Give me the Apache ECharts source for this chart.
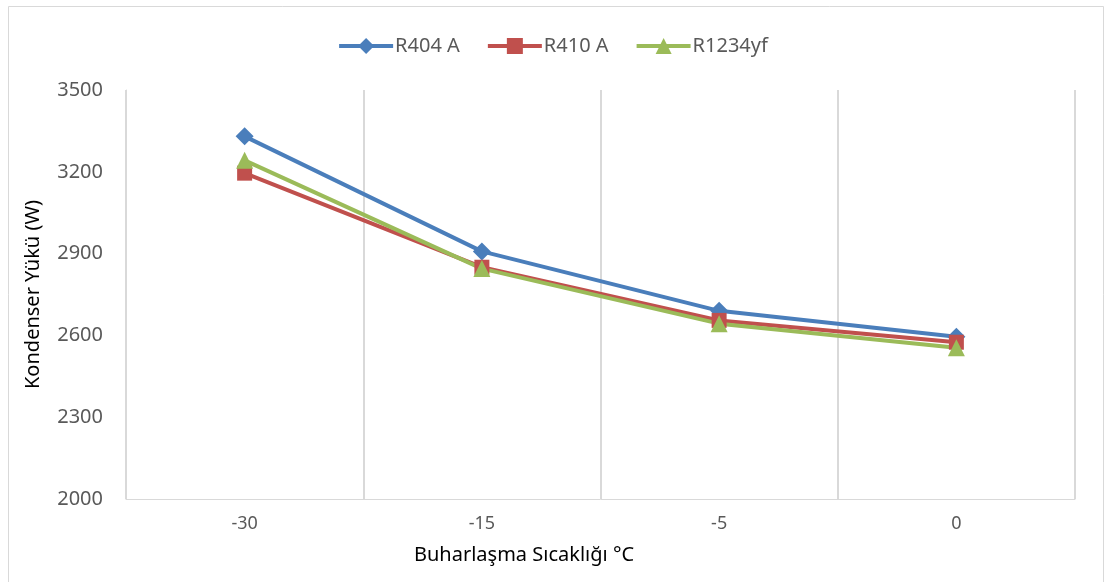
<!DOCTYPE html>
<html>
<head>
<meta charset="utf-8">
<script src="https://cdn.jsdelivr.net/npm/echarts@6/dist/echarts.min.js"></script>
<style>
  html, body { margin: 0; padding: 0; background: #fff; }
  #chart { width: 1105px; height: 582px; }
</style>
</head>
<body>
<div id="chart"></div>
<script>
// Evaporation temperatures (°C) on the category axis
const categories = ['-30', '-15', '-5', '0'];
// Condenser load (W) per refrigerant
const r404a = [3330, 2908, 2690, 2595];
const r410a = [3195, 2850, 2655, 2575];
const r1234yf = [3242, 2845, 2643, 2555];
const yTicks = { min: 2000, max: 3500, step: 300 };

const font = 'Noto Sans';
const textGray = '#595959';
const gridGray = '#d9d9d9';

function lineSeries(name, data, color, symbol, size) {
  return {
    name: name,
    type: 'line',
    data: data,
    symbol: symbol,
    symbolSize: size,
    lineStyle: { color: color, width: 4 },
    itemStyle: { color: color },
    z: 3
  };
}

const chart = echarts.init(document.getElementById('chart'), null, { renderer: 'canvas' });
chart.setOption({
  animation: false,
  backgroundColor: '#fff',
  textStyle: { fontFamily: font },
  graphic: [
    {
      type: 'rect',
      shape: { x: 8.5, y: 6.5, width: 1095, height: 600 },
      style: { fill: 'none', stroke: gridGray, lineWidth: 1 },
      silent: true
    },
    {
      type: 'text',
      left: 414,
      top: 545,
      style: { text: 'Buharlaşma Sıcaklığı °C', font: '20px "Noto Sans"', fill: '#000' }
    }
  ],
  legend: {
    top: 31,
    left: 'center',
    itemWidth: 54,
    itemHeight: 20,
    itemGap: 26,
    lineStyle: { width: 4 },
    textStyle: { fontSize: 20, color: textGray, fontFamily: font, padding: [0, 0, 0, -3] },
    data: ['R404 A', 'R410 A', 'R1234yf']
  },
  grid: { left: 126, right: 30, top: 90, bottom: 83, containLabel: false },
  xAxis: {
    type: 'category',
    data: categories,
    boundaryGap: true,
    axisLine: { show: true, lineStyle: { color: gridGray, width: 1 } },
    axisTick: { show: false },
    axisLabel: { color: textGray, fontSize: 18, margin: 16, fontFamily: font },
    splitLine: { show: true, lineStyle: { color: gridGray, width: 2 } }
  },
  yAxis: {
    type: 'value',
    min: yTicks.min,
    max: yTicks.max,
    interval: yTicks.step,
    name: 'Kondenser Yükü (W)',
    nameLocation: 'middle',
    nameGap: 83,
    nameRotate: 90,
    nameTextStyle: { color: '#000', fontSize: 20, fontFamily: font },
    axisLine: { show: true, lineStyle: { color: gridGray, width: 1 } },
    axisTick: { show: false },
    axisLabel: {
      color: textGray, fontSize: 20, margin: 23, fontFamily: font,
      formatter: function (v) { return String(v); }
    },
    splitLine: { show: false }
  },
  series: [
    lineSeries('R404 A', r404a, '#4a7ebb', 'diamond', 18),
    lineSeries('R410 A', r410a, '#c0504d', 'rect', 15),
    lineSeries('R1234yf', r1234yf, '#9bbb59', 'triangle', 17)
  ]
});
</script>
</body>
</html>
